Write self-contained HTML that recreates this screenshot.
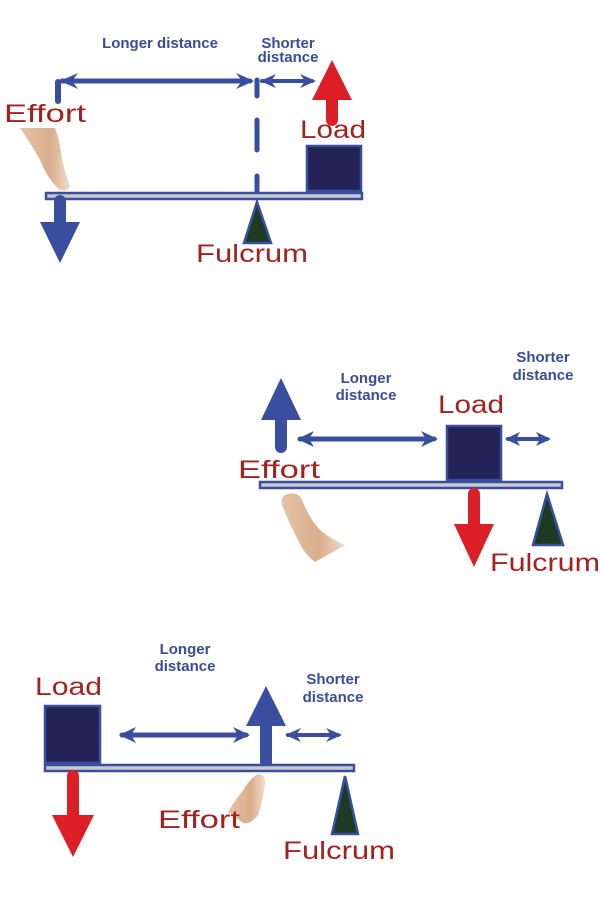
<!DOCTYPE html>
<html><head><meta charset="utf-8"><style>
html,body{margin:0;padding:0;background:#fff;}
svg{display:block}
.b{font-family:"Liberation Sans",sans-serif;font-weight:bold;font-size:15px;fill:#3a4c98;}
.r{font-family:"Liberation Sans",sans-serif;font-size:25px;fill:#a3221f;}
</style></head><body>
<svg width="600" height="917" viewBox="0 0 600 917" xmlns="http://www.w3.org/2000/svg">
<defs>
<linearGradient id="sk" x1="0" y1="0" x2="1" y2="0"><stop offset="0" stop-color="#e6c3a6"/><stop offset="0.6" stop-color="#d9ad8c"/><stop offset="1" stop-color="#f1dccb"/></linearGradient>
</defs>
<g stroke-linecap="round">
<!-- ===== Diagram 1 ===== -->
<text class="b" x="160" y="48" text-anchor="middle">Longer distance</text>
<text class="b" x="288" y="48" text-anchor="middle">Shorter</text>
<text class="b" x="288" y="62" text-anchor="middle">distance</text>
<path d="M20 128 L55 128 Q60 140 62 160 Q66 175 70 186 Q68 192 60 190 Q48 180 40 160 Q32 145 20 128Z" fill="url(#sk)"/>
<text class="r" x="4" y="122" textLength="82" lengthAdjust="spacingAndGlyphs">Effort</text>
<line x1="58" y1="82" x2="58" y2="101" stroke="#3a4ea0" stroke-width="6"/>
<line x1="62" y1="81" x2="250" y2="81" stroke="#3a4ea0" stroke-width="5"/>
<polygon points="60,81 78,73 72,81 78,89" fill="#3a4ea0"/>
<polygon points="254,81 236,73 242,81 236,89" fill="#3a4ea0"/>
<line x1="257" y1="80" x2="257" y2="96" stroke="#3a4ea0" stroke-width="5"/>
<line x1="262" y1="81" x2="312" y2="81" stroke="#3a4ea0" stroke-width="4"/>
<polygon points="260,81 276,74 271,81 276,88" fill="#3a4ea0"/>
<polygon points="316,81 300,74 305,81 300,88" fill="#3a4ea0"/>
<line x1="257" y1="120" x2="257" y2="150" stroke="#3a4ea0" stroke-width="5"/>
<line x1="257" y1="176" x2="257" y2="192" stroke="#3a4ea0" stroke-width="5"/>
<line x1="332" y1="98" x2="332" y2="120" stroke="#dc1f26" stroke-width="12"/>
<polygon points="332,60 352,100 312,100" fill="#dc1f26"/>
<text class="r" x="300" y="138" textLength="66" lengthAdjust="spacingAndGlyphs">Load</text>
<rect x="307" y="146" width="54" height="45" fill="#232357" stroke="#3a4ea0" stroke-width="2.5"/>
<rect x="46" y="193" width="316" height="6" fill="#c9c9cf" stroke="#3a4ea0" stroke-width="2.5"/>
<polygon points="257,202 271,243 244,243" fill="#1f3a22" stroke="#3a4ea0" stroke-width="2.5" stroke-linejoin="miter"/>
<line x1="60" y1="201" x2="60" y2="224" stroke="#3a4ea0" stroke-width="12"/>
<polygon points="40,222 80,222 60,263" fill="#3a4ea0"/>
<text class="r" x="196" y="262" textLength="112" lengthAdjust="spacingAndGlyphs">Fulcrum</text>

<!-- ===== Diagram 2 ===== -->
<text class="b" x="366" y="383" text-anchor="middle">Longer</text>
<text class="b" x="366" y="400" text-anchor="middle">distance</text>
<text class="b" x="543" y="362" text-anchor="middle">Shorter</text>
<text class="b" x="543" y="380" text-anchor="middle">distance</text>
<line x1="281" y1="418" x2="281" y2="447" stroke="#3a4ea0" stroke-width="12"/>
<polygon points="281,378 301,420 261,420" fill="#3a4ea0"/>
<line x1="300" y1="439" x2="434" y2="439" stroke="#3a4ea0" stroke-width="5"/>
<polygon points="297,439 314,431 309,439 314,447" fill="#3a4ea0"/>
<polygon points="438,439 421,431 426,439 421,447" fill="#3a4ea0"/>
<text class="r" x="438" y="413" textLength="66" lengthAdjust="spacingAndGlyphs">Load</text>
<rect x="447" y="426" width="54" height="54" fill="#232357" stroke="#3a4ea0" stroke-width="2.5"/>
<line x1="508" y1="439" x2="547" y2="439" stroke="#3a4ea0" stroke-width="4"/>
<polygon points="505,439 520,432 516,439 520,446" fill="#3a4ea0"/>
<polygon points="551,439 536,432 540,439 536,446" fill="#3a4ea0"/>
<text class="r" x="238" y="478" textLength="82" lengthAdjust="spacingAndGlyphs">Effort</text>
<rect x="260" y="482" width="302" height="6" fill="#c9c9cf" stroke="#3a4ea0" stroke-width="2.5"/>
<path d="M285 495 Q298 490 302 500 Q310 520 320 530 Q332 540 345 545 L315 562 Q305 555 298 540 Q290 525 282 505 Q280 498 285 495Z" fill="url(#sk)"/>
<line x1="474" y1="494" x2="474" y2="526" stroke="#dc1f26" stroke-width="12"/>
<polygon points="454,524 494,524 474,567" fill="#dc1f26"/>
<polygon points="547,494 563,545 533,545" fill="#1f3a22" stroke="#3a4ea0" stroke-width="2.5"/>
<text class="r" x="490" y="571" textLength="110" lengthAdjust="spacingAndGlyphs">Fulcrum</text>

<!-- ===== Diagram 3 ===== -->
<text class="b" x="185" y="654" text-anchor="middle">Longer</text>
<text class="b" x="185" y="671" text-anchor="middle">distance</text>
<text class="b" x="333" y="684" text-anchor="middle">Shorter</text>
<text class="b" x="333" y="702" text-anchor="middle">distance</text>
<text class="r" x="35" y="695" textLength="67" lengthAdjust="spacingAndGlyphs">Load</text>
<rect x="45" y="706" width="55" height="57" fill="#232357" stroke="#3a4ea0" stroke-width="2.5"/>
<line x1="122" y1="735" x2="246" y2="735" stroke="#3a4ea0" stroke-width="5"/>
<polygon points="119,735 136,727 131,735 136,743" fill="#3a4ea0"/>
<polygon points="250,735 233,727 238,735 233,743" fill="#3a4ea0"/>
<line x1="266" y1="722" x2="266" y2="762" stroke="#3a4ea0" stroke-width="12"/>
<polygon points="266,686 286,726 246,726" fill="#3a4ea0"/>
<line x1="288" y1="735" x2="338" y2="735" stroke="#3a4ea0" stroke-width="4"/>
<polygon points="285,735 301,728 296,735 301,742" fill="#3a4ea0"/>
<polygon points="342,735 326,728 331,735 326,742" fill="#3a4ea0"/>
<rect x="45" y="765" width="309" height="6" fill="#c9c9cf" stroke="#3a4ea0" stroke-width="2.5"/>
<path d="M258 774 Q268 775 264 790 Q262 805 258 815 Q250 825 243 823 L228 812 Q235 800 242 792 Q250 778 258 774Z" fill="url(#sk)"/>
<line x1="73" y1="776" x2="73" y2="816" stroke="#dc1f26" stroke-width="12"/>
<polygon points="52,815 94,815 73,857" fill="#dc1f26"/>
<text class="r" x="158" y="828" textLength="82" lengthAdjust="spacingAndGlyphs">Effort</text>
<polygon points="345,776 358,834 332,834" fill="#1f3a22" stroke="#3a4ea0" stroke-width="2.5"/>
<text class="r" x="283" y="859" textLength="112" lengthAdjust="spacingAndGlyphs">Fulcrum</text>
</g>
</svg>
</body></html>
